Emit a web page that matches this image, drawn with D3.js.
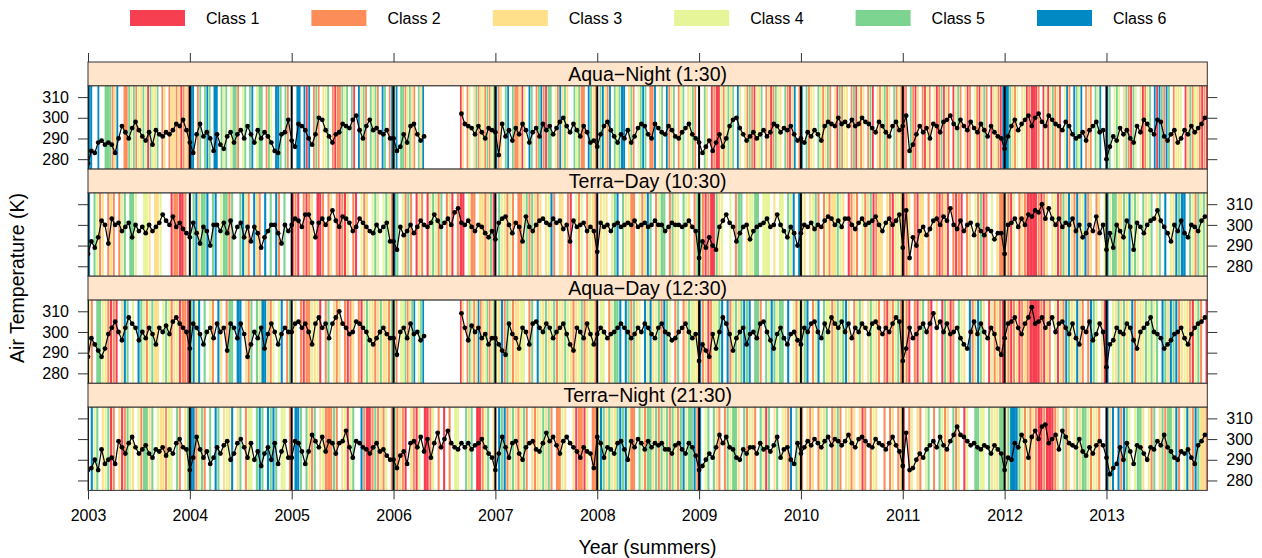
<!DOCTYPE html>
<html><head><meta charset="utf-8">
<script src="https://cdn.jsdelivr.net/npm/d3@7/dist/d3.min.js"></script>
<style>body{margin:0;background:#fff}svg{display:block}</style>
</head><body>
<svg id="chart" width="1262" height="558"></svg>
<script>
// ---------------- data ----------------
const years = [2003,2004,2005,2006,2007,2008,2009,2010,2011,2012,2013];
const classNames = ["Class 1","Class 2","Class 3","Class 4","Class 5","Class 6"];
const classColors = ["#F73F52","#FC8D59","#FEE08B","#E6F598","#7DD390","#0089C2"];
const panelTitles = ["Aqua\u2212Night (1:30)","Terra\u2212Day (10:30)","Aqua\u2212Day (12:30)","Terra\u2212Night (21:30)"];
const yTickValues = [280,290,300,310];
const xTickValues = years;
const _ = null;

// Air temperature (K), one row per summer, sampled evenly through the summer
const tempAquaNight = [
[278,284,283,288,289,287,288,287,283,290,296,293,290,295,298,294,291,289,293,287,294,292,291,293,292,294,297,296,299,294],
[288,283,292,297,291,293,290,284,292,287,285,291,293,288,292,294,290,296,292,288,294,290,293,291,288,284,283,292,293,299],
[289,286,297,296,294,290,287,292,300,299,294,291,288,292,293,297,296,295,299,301,294,290,296,299,294,295,293,292,294,290],
[290,284,286,292,288,296,297,292,289,291,_,_,_,_,_,_,_,_,_,_,302,297,296,295,292,296,293,290,295,294],
[293,282,297,291,294,289,295,292,297,294,288,293,295,291,297,294,296,292,295,298,300,296,293,297,294,291,296,293,288,289],
[286,292,296,298,294,291,288,292,290,294,288,291,295,297,296,292,290,297,295,293,292,296,294,291,290,293,295,297,292,290],
[288,283,286,289,284,288,292,286,290,296,299,300,295,292,289,291,293,290,292,294,291,293,297,296,293,295,294,296,292,289],
[290,288,293,291,294,292,289,296,298,297,296,300,297,298,296,299,296,297,300,298,297,295,293,298,296,293,291,296,298,294],
[296,301,284,287,292,296,293,295,290,297,296,293,298,299,301,297,295,299,296,294,298,295,293,297,294,291,296,293,291,290],
[285,291,296,299,294,297,299,301,296,300,302,298,296,301,299,297,296,294,298,296,292,290,291,293,289,294,296,298,293,294],
[280,286,291,289,295,292,294,290,288,296,293,299,297,294,292,299,298,291,289,292,294,288,290,294,292,296,293,295,297,300]
];
const tempTerraDay = [
[286,292,289,294,302,300,291,303,300,301,297,299,301,294,300,297,299,296,300,297,299,301,305,302,300,304,299,301,298,296],
[294,301,296,291,299,297,290,300,300,297,301,296,302,294,299,301,294,299,292,299,296,289,294,297,300,300,296,291,300,297],
[300,303,302,299,305,305,301,294,301,303,300,303,307,302,299,304,303,301,297,299,303,301,299,297,296,300,297,299,301,292],
[292,288,299,295,297,300,296,299,302,300,299,301,305,302,299,301,303,300,306,308,301,300,302,299,297,300,299,296,294,297],
[293,301,303,304,300,296,301,299,292,304,299,297,300,302,303,301,300,303,301,302,298,300,292,302,299,300,301,297,299,297],
[287,301,299,300,297,300,301,299,300,301,300,302,299,300,301,299,300,302,300,300,297,299,301,300,300,299,300,302,299,297],
[284,292,289,294,290,288,299,302,305,301,299,292,296,299,300,293,297,299,300,301,303,299,300,305,300,297,294,299,296,290],
[296,300,299,301,298,300,299,302,304,303,300,302,299,303,303,300,298,301,303,300,301,302,304,300,297,301,303,300,302,305],
[289,307,284,294,290,297,299,295,298,302,303,300,304,302,308,300,298,302,297,300,301,295,300,297,295,298,297,293,296,296],
[286,300,301,303,299,303,300,305,304,307,306,310,303,308,303,300,303,299,301,300,303,297,300,294,296,300,297,304,296,300],
[288,296,289,300,297,294,302,299,288,301,299,296,300,302,303,307,302,299,296,292,300,297,302,296,294,300,299,297,302,304]
];
const tempAquaDay = [
[288,297,294,291,288,292,299,302,305,300,296,302,307,304,302,296,300,297,302,299,294,302,300,303,299,305,307,304,302,300],
[292,304,302,299,294,300,302,297,304,300,302,291,304,302,297,304,299,288,294,300,297,302,292,299,304,300,294,299,302,300],
[300,304,305,302,304,300,294,304,307,302,304,297,304,307,310,304,302,299,300,305,304,302,300,296,294,297,300,302,299,297],
[297,289,300,302,297,304,299,300,296,298,_,_,_,_,_,_,_,_,_,_,309,302,296,303,300,302,297,299,294,297],
[297,294,291,289,304,299,297,292,302,300,294,304,305,302,300,304,302,297,300,302,304,299,294,291,302,300,297,304,299,294],
[299,302,300,297,299,300,302,304,302,300,297,299,302,300,304,302,299,297,302,304,300,299,296,297,300,302,304,300,297,299],
[286,294,291,288,299,292,300,307,304,299,291,297,300,302,294,299,300,297,304,305,300,296,292,299,302,297,294,299,300,296],
[294,302,300,304,305,300,297,304,300,307,304,302,305,300,304,297,302,300,304,302,299,304,305,302,299,302,300,304,307,305],
[286,292,302,297,299,302,304,300,304,309,302,305,300,304,299,300,302,297,294,292,300,305,299,304,300,297,302,299,292,289],
[297,304,305,307,302,299,304,307,312,304,305,307,302,304,307,300,304,305,302,299,304,297,294,302,300,305,296,299,304,300],
[283,294,296,302,300,299,304,302,296,292,300,302,304,307,300,299,297,292,294,296,299,300,302,297,294,299,302,304,305,307]
];
const tempTerraNight = [
[285,286,290,285,295,288,290,291,288,299,296,293,298,301,296,293,295,297,293,291,295,294,296,292,295,293,298,300,296,295],
[285,291,301,295,291,294,288,291,296,293,297,299,290,293,298,300,296,291,298,290,294,287,293,296,290,298,288,294,299,291],
[291,299,298,294,288,294,302,299,296,301,294,299,298,293,298,299,304,296,291,299,298,296,295,293,296,298,294,295,292,290],
[290,286,292,294,288,298,299,296,301,294,300,291,298,303,296,300,304,298,296,295,298,296,298,295,297,298,300,296,293,291],
[285,293,301,296,291,298,299,293,290,296,298,299,295,294,298,303,299,301,297,293,299,301,298,296,294,291,296,294,293,286],
[301,298,291,296,295,293,298,299,295,290,299,296,300,298,295,299,296,298,297,298,295,295,293,297,298,295,293,298,296,292],
[285,287,290,293,291,296,302,298,301,296,295,291,290,295,293,296,296,293,298,295,296,294,297,301,291,295,296,290,288,298],
[293,296,299,297,300,298,296,299,301,297,300,299,297,299,302,298,296,300,301,299,297,296,300,298,297,295,298,301,297,294],
[287,303,285,286,290,293,291,295,297,299,296,301,297,295,299,302,306,302,301,299,297,298,296,295,297,296,293,297,295,293],
[285,291,290,298,296,302,299,291,301,304,300,306,307,298,300,302,295,304,301,298,297,296,300,294,292,296,293,297,299,297],
[291,283,286,288,296,290,298,294,288,297,296,293,290,296,295,299,297,302,296,294,291,290,294,293,295,291,288,297,299,302]
];

// Daily class through each summer (1..6 = Class 1..6, 0 = none)
const classAquaNight = [
"6600600555236002254524354154350230233231232",
"6602505650660545045520450560455025406650520",
"0066061602520345021225450510635205452065026",
"5605524532053600000000000000001302403523425245",
"6230560522314065025621550426353005452206532",
"0563260545660352045650226045062350245034520",
"0053012114245350630425214350231254305213602",
"6052340542352031524302514230251032452305242",
"1205213021420312513201452031204213520134216",
"6653240341211120141352310462065460232054600",
"6504540352154031245061652650243401352432121"
];
const classTerraDay = [
"6054230232024505540044303340001221120",
"0563556056045525005642063206050620500",
"1210212301120230212130210423045404542",
"6504252013201454250231021104220332351",
"0543242022452532303462033021042402432",
"0343045605342204236502455025340543025",
"5212115340040255034455044403044054606",
"4303452024233543012320423512330321343",
"1230213302032123102121023042512040322",
"3214023211112123034125363263462302304",
"6455335464540534503506043656605425453"
];
const classAquaDay = [
"4205543212103650406542453304542341221",
"5646050420630255066032505466324046025",
"0302122434102503230212302145432353325",
"5204452356045600000000000000001302542362345235",
"4362542334402506435345243543234523442",
"0440245560652534064634526540250235443",
"6231244560624535656055205465455060424",
"3560246054423545630245303543202132452",
"3210213502103015312054306236530142321",
"3212312321111213204132653463202654031",
"6043535346243454545065365623432145201"
];
const classTerraNight = [
"0645034512031254304255350433244052035",
"6624520506503436035024405650656504402",
"0665053250342225203414500621125232402",
"5232103214011240201020440053501124503",
"0656245324520323453520224300312214022",
"4653543565642205425535254525425645562",
"6045053202545530524320541503504326053",
"2032302435023520342303120243002023023",
"1024032045020542305230140055440534355",
"3566654242321121112305230353554243200",
"6360626540455304250352554620463265332"
];

const panelTemps = [tempAquaNight, tempTerraDay, tempAquaDay, tempTerraNight];
const panelClasses = [classAquaNight, classTerraDay, classAquaDay, classTerraNight];

// ---------------- drawing ----------------
const FONT = "'Liberation Sans', Arial, Helvetica, sans-serif";
const svg = d3.select("#chart");
const x = d3.scaleLinear().domain([2003, 2013.99]).range([88, 1207.3]);
const top0 = 62, blockH = 107.1, stripH = 23.7, panelH = blockH - stripH;
const frameCol = "#333";

panelTitles.forEach((title, k) => {
  const y0 = top0 + k * blockH;
  const pTop = y0 + stripH, pBot = y0 + blockH;
  const y = d3.scaleLinear().domain([275.2, 315.5]).range([pBot, pTop]);
  const g = svg.append("g");
  const clipId = "clip" + k;
  g.append("clipPath").attr("id", clipId).append("rect")
    .attr("x", x.range()[0]).attr("y", pTop)
    .attr("width", x.range()[1] - x.range()[0]).attr("height", panelH);
  const inner = g.append("g").attr("clip-path", `url(#${clipId})`);

  // class stripes (thin per-day stripes; consecutive same-class days merge)
  const stripes = [];
  panelClasses[k].forEach((s, yi) => {
    const n = s.length;
    for (let j = 0; j < n; j++) {
      const c = +s[j];
      if (c > 0) {
        const same = j + 1 < n && +s[j + 1] === c;
        stripes.push({x0: years[yi] + j / n, x1: years[yi] + (j + (same ? 1 : 0.68)) / n, c});
      }
    }
  });
  inner.selectAll("rect.stripe").data(stripes).join("rect")
    .attr("class", "stripe")
    .attr("x", d => x(d.x0)).attr("width", d => x(d.x1) - x(d.x0) + 0.2)
    .attr("y", pTop).attr("height", panelH)
    .attr("fill", d => classColors[d.c - 1]);

  // year reference lines
  inner.selectAll("line.yr").data(years).join("line")
    .attr("class", "yr")
    .attr("x1", d => x(d)).attr("x2", d => x(d))
    .attr("y1", pTop).attr("y2", pBot)
    .attr("stroke", "#000").attr("stroke-width", 2);

  // temperature series
  const pts = [];
  panelTemps[k].forEach((row, yi) => {
    const n = row.length;
    row.forEach((v, i) => pts.push({t: years[yi] + i / n, v}));
  });
  inner.append("path").datum(pts)
    .attr("fill", "none").attr("stroke", "#000").attr("stroke-width", 1.2)
    .attr("d", d3.line().defined(d => d.v != null).x(d => x(d.t)).y(d => y(d.v)));
  inner.selectAll("circle").data(pts.filter(d => d.v != null)).join("circle")
    .attr("cx", d => x(d.t)).attr("cy", d => y(d.v)).attr("r", 2.4).attr("fill", "#000");

  // panel frame
  g.append("rect").attr("x", x.range()[0]).attr("y", pTop)
    .attr("width", x.range()[1] - x.range()[0]).attr("height", panelH)
    .attr("fill", "none").attr("stroke", frameCol).attr("stroke-width", 1);

  // strip
  g.append("rect").attr("x", x.range()[0]).attr("y", y0)
    .attr("width", x.range()[1] - x.range()[0]).attr("height", stripH)
    .attr("fill", "#FFE5CC").attr("stroke", frameCol).attr("stroke-width", 1);
  g.append("text").attr("x", (x.range()[0] + x.range()[1]) / 2).attr("y", y0 + stripH / 2)
    .attr("dy", "0.36em").attr("text-anchor", "middle")
    .attr("font-family", FONT).attr("font-size", 19.5).attr("fill", "#000")
    .text(title);

  // y axes (alternating labels)
  const labelLeft = (k % 2 === 0);
  const axL = d3.axisLeft(y).tickValues(yTickValues).tickSize(10).tickPadding(9).tickSizeOuter(0);
  const axR = d3.axisRight(y).tickValues(yTickValues).tickSize(10).tickPadding(9).tickSizeOuter(0);
  if (!labelLeft) axL.tickFormat("");
  if (labelLeft) axR.tickFormat("");
  [[axL, x.range()[0]], [axR, x.range()[1]]].forEach(([ax, xp]) => {
    const a = g.append("g").attr("transform", `translate(${xp},0)`).call(ax);
    a.select(".domain").remove();
    a.selectAll("line").attr("stroke", frameCol);
    a.selectAll("text").attr("font-family", FONT).attr("font-size", 16).attr("fill", "#000");
  });
});

// x axes
const xTop = d3.axisTop(x).tickValues(xTickValues).tickSize(9).tickFormat("").tickSizeOuter(0);
const at = svg.append("g").attr("transform", `translate(0,${top0})`).call(xTop);
at.select(".domain").remove();
at.selectAll("line").attr("stroke", frameCol);

const bottomY = top0 + 4 * blockH;
const xBot = d3.axisBottom(x).tickValues(xTickValues).tickSize(9).tickPadding(10)
  .tickFormat(d3.format("d")).tickSizeOuter(0);
const ab = svg.append("g").attr("transform", `translate(0,${bottomY})`).call(xBot);
ab.select(".domain").remove();
ab.selectAll("line").attr("stroke", frameCol);
ab.selectAll("text").attr("font-family", FONT).attr("font-size", 16).attr("fill", "#000");

// axis titles
svg.append("text").attr("x", 647.5).attr("y", 554)
  .attr("text-anchor", "middle").attr("font-family", FONT).attr("font-size", 19.5).attr("fill", "#000")
  .text("Year (summers)");
svg.append("text").attr("transform", "translate(17,278) rotate(-90)")
  .attr("dy", "0.35em").attr("text-anchor", "middle")
  .attr("font-family", FONT).attr("font-size", 19.5).attr("fill", "#000")
  .text("Air Temperature (K)");

// legend
const lg = svg.append("g");
classNames.forEach((name, i) => {
  const lx = 130 + i * 181.4;
  lg.append("rect").attr("x", lx).attr("y", 10).attr("width", 55).attr("height", 16)
    .attr("fill", classColors[i]);
  lg.append("text").attr("x", lx + 76).attr("y", 23.5)
    .attr("font-family", FONT).attr("font-size", 16).attr("fill", "#000").text(name);
});
</script>
</body></html>
